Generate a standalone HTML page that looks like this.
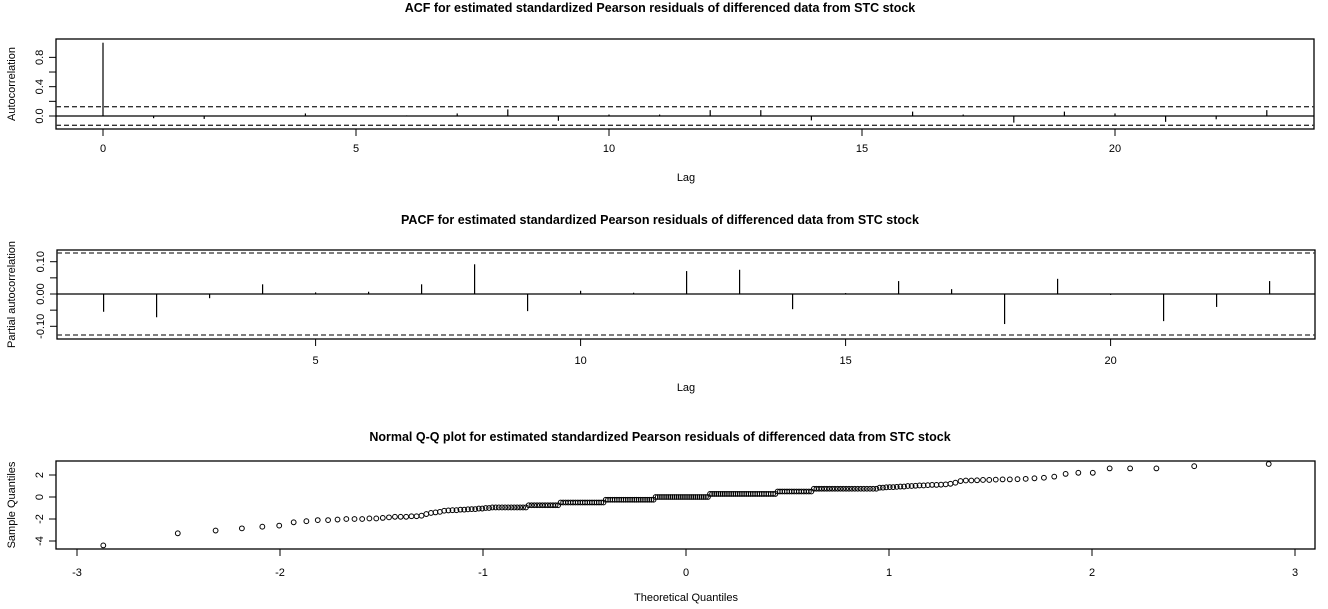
<!DOCTYPE html>
<html><head><meta charset="utf-8">
<style>
html,body{margin:0;padding:0;background:#fff;}
svg{display:block;font-family:"Liberation Sans",Arial,sans-serif;}
.t{font-weight:bold;font-size:12.5px;}
.l{font-size:11px;}
</style></head>
<body>
<svg id="c" width="1328" height="609" viewBox="0 0 1328 609"></svg>
<script>
const acfLags=[0,1,2,3,4,5,6,7,8,9,10,11,12,13,14,15,16,17,18,19,20,21,22,23];
const acfValues=[1.0,-0.03,-0.04,0.003,0.035,0.004,0.008,0.035,0.09,-0.065,0.02,0.02,0.08,0.08,-0.06,0.003,0.06,0.02,-0.09,0.06,0.035,-0.08,-0.045,0.08];
const acfYTicks=[0,0.2,0.4,0.6,0.8];
const acfYLabels=["0.0","","0.4","","0.8"];
const acfXTicks=[0,5,10,15,20];
const pacfLags=[1,2,3,4,5,6,7,8,9,10,11,12,13,14,15,16,17,18,19,20,21,22,23];
const pacfValues=[-0.055,-0.072,-0.013,0.03,0.005,0.007,0.03,0.092,-0.053,0.01,0.004,0.071,0.075,-0.047,0.003,0.04,0.015,-0.093,0.047,-0.003,-0.084,-0.04,0.04];
const pacfYTicks=[-0.1,-0.05,0,0.05,0.1];
const pacfYLabels=["-0.10","","0.00","","0.10"];
const pacfXTicks=[5,10,15,20];
const ciBound=0.127;
const qqSample=[-4.4,-3.3,-3.05,-2.85,-2.7,-2.6,
-2.3,-2.2,-2.1,-2.1,-2.05,-2.0,-2.0,-2.0,-1.95,-1.95,-1.9,
-1.85,-1.8,-1.8,-1.8,-1.75,-1.75,-1.7,
-1.55,-1.45,-1.4,-1.35,
-1.25,-1.22,-1.2,-1.2,-1.15,-1.15,-1.12,-1.1,-1.1,-1.05,-1.05,
-1.0,-1.0,-0.95,-0.95,-0.95,-0.95,-0.95,-0.95,-0.95,-0.95,-0.95,-0.95,-0.95,-0.95,
-0.75,-0.75,-0.75,-0.75,-0.75,-0.75,-0.75,-0.75,-0.75,-0.75,-0.75,-0.75,
-0.5,-0.5,-0.5,-0.5,-0.5,-0.5,-0.5,-0.5,-0.5,-0.5,-0.5,-0.5,-0.5,-0.5,-0.5,-0.5,-0.5,-0.5,-0.5,
-0.25,-0.25,-0.25,-0.25,-0.25,-0.25,-0.25,-0.25,-0.25,-0.25,-0.25,-0.25,-0.25,-0.25,-0.25,-0.25,-0.25,-0.25,-0.25,-0.25,-0.25,-0.25,-0.25,
0,0,0,0,0,0,0,0,0,0,0,0,0,0,0,0,0,0,0,0,0,0,0,0,0,0,
0.28,0.28,0.28,0.28,0.28,0.28,0.28,0.28,0.28,0.28,0.28,0.28,0.28,0.28,0.28,0.28,0.28,0.28,0.28,0.28,0.28,0.28,0.28,0.28,0.28,0.28,0.28,0.28,0.28,0.28,0.28,
0.5,0.5,0.5,0.5,0.5,0.5,0.5,0.5,0.5,0.5,0.5,0.5,0.5,0.5,0.5,
0.75,0.75,0.75,0.75,0.75,0.75,0.75,0.75,0.75,0.75,0.75,0.75,0.75,0.75,0.75,0.75,0.75,0.75,0.75,0.75,0.75,0.75,0.75,
0.85,0.85,0.88,0.9,0.9,0.92,0.95,0.95,1.0,
1.0,1.02,1.05,1.05,1.08,1.1,1.1,1.12,1.15,1.2,1.3,
1.45,1.5,1.5,1.52,1.55,1.55,1.58,1.6,1.6,1.62,1.65,1.7,1.75,
1.85,2.1,2.2,2.2,2.6,2.6,2.6,2.8,3.0];
const qqXTicks=[-3,-2,-1,0,1,2,3];
const qqYTicks=[-4,-2,0,2];

const svg=document.getElementById('c');
const NS='http://www.w3.org/2000/svg';
function mk(tag,attrs,parent){const e=document.createElementNS(NS,tag);for(const k in attrs)e.setAttribute(k,attrs[k]);(parent||svg).appendChild(e);return e;}
function txt(s,x,y,cls,rot,parent){const e=mk('text',{x:x,y:y,'text-anchor':'middle','class':cls},parent);if(rot)e.setAttribute('transform','rotate(-90 '+x+' '+y+')');e.textContent=s;return e;}

function qnorm(p){const a=[-39.69683028665376,220.9460984245205,-275.9285104469687,138.357751867269,-30.66479806614716,2.506628277459239],b=[-54.47609879822406,161.5858368580409,-155.6989798598866,66.80131188771972,-13.28068155288572],c=[-0.007784894002430293,-0.3223964580411365,-2.400758277161838,-2.549732539343734,4.374664141464968,2.938163982698783],d=[0.007784695709041462,0.3224671290700398,2.445134137142996,3.754408661907416];const pl=0.02425;let q,r;if(p<pl){q=Math.sqrt(-2*Math.log(p));return(((((c[0]*q+c[1])*q+c[2])*q+c[3])*q+c[4])*q+c[5])/((((d[0]*q+d[1])*q+d[2])*q+d[3])*q+1);}if(p>1-pl){q=Math.sqrt(-2*Math.log(1-p));return-(((((c[0]*q+c[1])*q+c[2])*q+c[3])*q+c[4])*q+c[5])/((((d[0]*q+d[1])*q+d[2])*q+d[3])*q+1);}q=p-0.5;r=q*q;return(((((a[0]*r+a[1])*r+a[2])*r+a[3])*r+a[4])*r+a[5])*q/(((((b[0]*r+b[1])*r+b[2])*r+b[3])*r+b[4])*r+1);}

function panel(cfg){
  const g=mk('g',{});
  
  
  const t=txt(cfg.title,660,cfg.titleY,'t',false,g);
  
  
  const box=mk('rect',{x:cfg.L,y:cfg.T,width:cfg.R-cfg.L,height:cfg.B-cfg.T,fill:'none',stroke:'#000','stroke-width':1.3},g);
  
  
  const xa=mk('g',{},g);
  
  
  cfg.xTicks.forEach(v=>{const x=cfg.xs(v);mk('line',{x1:x,x2:x,y1:cfg.B,y2:cfg.B+7,stroke:'#000'},xa);txt(String(v),x,cfg.xLabY,'l',false,xa);});
  const ya=mk('g',{},g);
  
  
  cfg.yTicks.forEach((v,i)=>{const y=cfg.ys(v);mk('line',{x1:cfg.L-7,x2:cfg.L,y1:y,y2:y,stroke:'#000'},ya);const s=cfg.yLabels?cfg.yLabels[i]:String(v);if(s)txt(s,cfg.L-13,y,'l',true,ya);});
  const xt=txt(cfg.xTitle,cfg.xTitleX,cfg.xTitleY,'l',false,g);
  
  
  const yt=txt(cfg.yTitle,15,(cfg.T+cfg.B)/2,'l',true,g);
  
  
  return g;
}
function corrPanel(cfg,lags,vals){
  const g=panel(cfg);
  const z=cfg.ys(0);
  const zl=mk('line',{x1:cfg.L,x2:cfg.R,y1:z,y2:z,stroke:'#000','stroke-width':1.2},g);
  
  
  [ciBound,-ciBound].forEach((b,i)=>{const y=cfg.ys(b);const l=mk('line',{x1:cfg.L,x2:cfg.R,y1:y,y2:y,stroke:'#333','stroke-width':1.3,'stroke-dasharray':'5,3'},g);
    
    });
  lags.forEach((k,i)=>{const x=cfg.xs(k);const l=mk('line',{x1:x,x2:x,y1:z,y2:cfg.ys(vals[i]),stroke:'#000','stroke-width':1.2},g);
    
    });
}
const acfX=v=>103+v*50.6, acfY=v=>116-v*73.3;
corrPanel({name:'acf-panel',title:'ACF for estimated standardized Pearson residuals of differenced data from STC stock',titleY:12,L:56,R:1314,T:39,B:129,xs:acfX,ys:acfY,xTicks:acfXTicks,yTicks:acfYTicks,yLabels:acfYLabels,xLabY:152,xTitle:'Lag',xTitleX:686,xTitleY:181,yTitle:'Autocorrelation'},acfLags,acfValues);
const pacfX=v=>103.6+(v-1)*53.0, pacfY=v=>294-v*323;
corrPanel({name:'pacf-panel',title:'PACF for estimated standardized Pearson residuals of differenced data from STC stock',titleY:224,L:57,R:1315,T:250,B:339,xs:pacfX,ys:pacfY,xTicks:pacfXTicks,yTicks:pacfYTicks,yLabels:pacfYLabels,xLabY:364,xTitle:'Lag',xTitleX:686,xTitleY:391,yTitle:'Partial autocorrelation'},pacfLags,pacfValues);

const qqX=v=>686+v*203, qqY=v=>497-v*11;
const qg=panel({name:'qq-panel',title:'Normal Q-Q plot for estimated standardized Pearson residuals of differenced data from STC stock',titleY:441,L:56,R:1315,T:461,B:549,xs:qqX,ys:qqY,xTicks:qqXTicks,yTicks:qqYTicks,xLabY:576,xTitle:'Theoretical Quantiles',xTitleX:686,xTitleY:601,yTitle:'Sample Quantiles'});
const n=qqSample.length;
qqSample.forEach((v,i)=>{const q=qnorm((i+0.5)/n);const c=mk('circle',{cx:qqX(q),cy:qqY(v),r:2.4,fill:'none',stroke:'#000','stroke-width':1},qg);
  
  });
</script>
</body></html>
